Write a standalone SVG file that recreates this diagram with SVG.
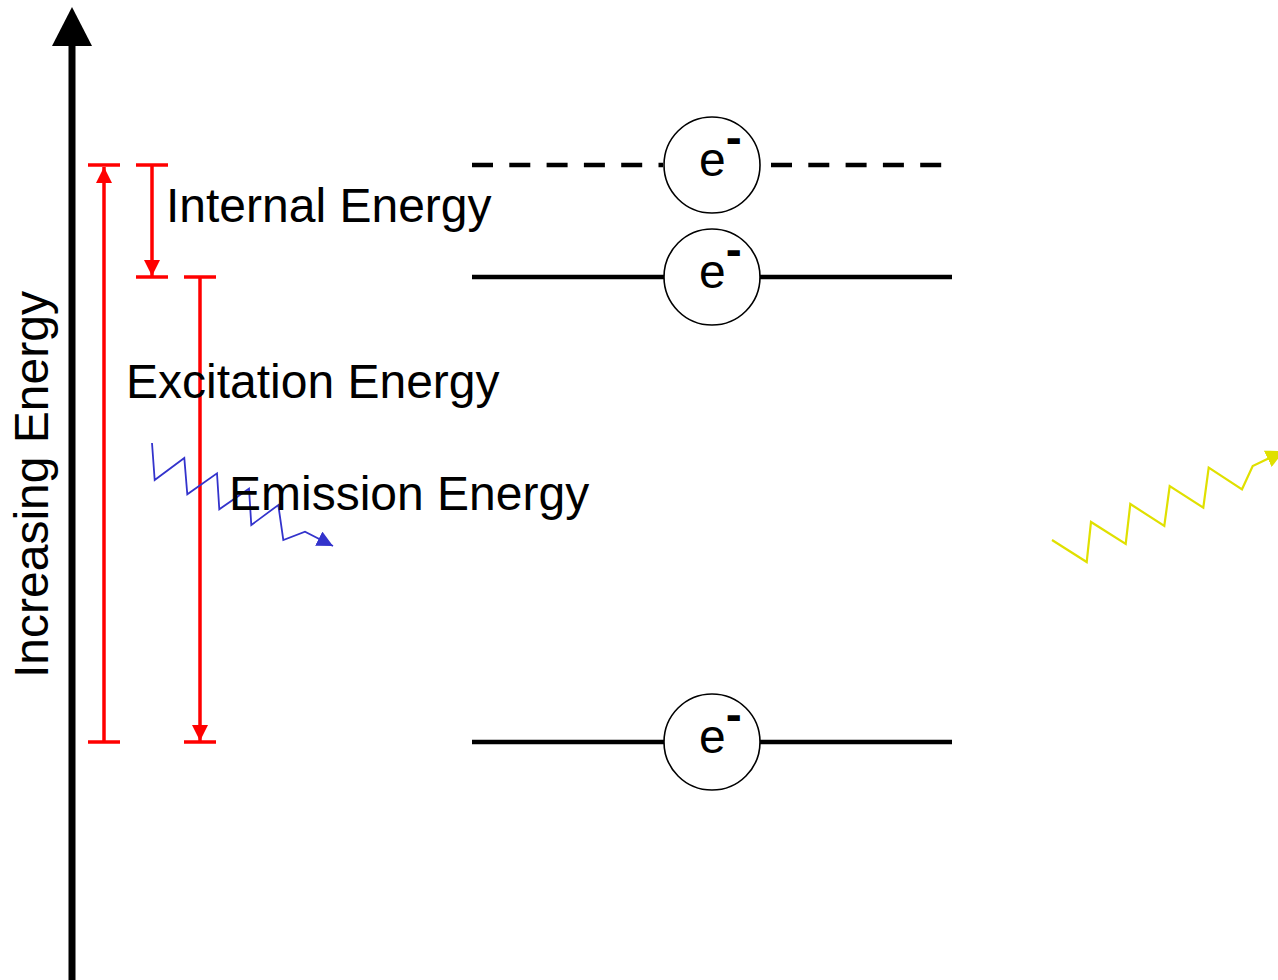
<svg xmlns="http://www.w3.org/2000/svg" width="1278" height="980" viewBox="0 0 1278 980">
  <style>
    .label { font-family: "Liberation Sans", Arial, sans-serif; font-size: 48px; fill: #000; }
    .bracket { stroke: #ff0000; stroke-width: 3.5; fill: none; }
    .level { stroke: #000; stroke-width: 4.5; fill: none; }
    .electron circle { fill: #fff; stroke: #000; stroke-width: 1.6; }
    .electron text { font-family: "Liberation Sans", Arial, sans-serif; font-size: 48px; fill: #000; }
    .electron .charge { font-weight: bold; }
  </style>
  <defs>
    <marker id="redHead" viewBox="0 0 10 10" refX="10" refY="5" markerWidth="16" markerHeight="16" markerUnits="userSpaceOnUse" orient="auto">
      <path d="M0,0 L10,5 L0,10 Z" fill="#ff0000"/>
    </marker>
    <marker id="blueHead" viewBox="0 0 10 10" refX="10" refY="5" markerWidth="16" markerHeight="16" markerUnits="userSpaceOnUse" orient="auto">
      <path d="M0,0 L10,5 L0,10 Z" fill="#3333cc"/>
    </marker>
    <marker id="yellowHead" viewBox="0 0 10 10" refX="10" refY="5" markerWidth="18" markerHeight="18" markerUnits="userSpaceOnUse" orient="auto">
      <path d="M0,0 L10,5 L0,10 Z" fill="#e0e000"/>
    </marker>
  </defs>

  <rect width="1278" height="980" fill="#fff"/>

  <!-- energy axis -->
  <g id="axis">
    <line x1="72" y1="980" x2="72" y2="40" stroke="#000" stroke-width="7"/>
    <polygon points="52,46 92,46 72,7" fill="#000"/>
    <text class="label" transform="translate(48,678) rotate(-90)">Increasing Energy</text>
  </g>

  <!-- energy levels -->
  <g id="levels">
    <line class="level" x1="472" y1="165" x2="663" y2="165" stroke-dasharray="21 16.3"/>
    <line class="level" x1="771" y1="165" x2="942" y2="165" stroke-dasharray="21 16.3"/>
    <line class="level" x1="472" y1="277" x2="952" y2="277"/>
    <line class="level" x1="472" y1="742" x2="952" y2="742"/>
  </g>

  <!-- electrons -->
  <g id="electron-excited" class="electron">
    <circle cx="712" cy="165" r="48"/>
    <text x="699" y="176">e<tspan class="charge" dy="-22">-</tspan></text>
  </g>
  <g id="electron-internal" class="electron">
    <circle cx="712" cy="277" r="48"/>
    <text x="699" y="288">e<tspan class="charge" dy="-22">-</tspan></text>
  </g>
  <g id="electron-ground" class="electron">
    <circle cx="712" cy="742" r="48"/>
    <text x="699" y="753">e<tspan class="charge" dy="-22">-</tspan></text>
  </g>

  <!-- energy gap brackets -->
  <g id="connectors">
    <g id="excitation-bracket">
      <line class="bracket" x1="88" y1="165" x2="120" y2="165"/>
      <line class="bracket" x1="88" y1="742" x2="120" y2="742"/>
      <line class="bracket" x1="104" y1="742" x2="104" y2="167" marker-end="url(#redHead)"/>
    </g>
    <g id="internal-bracket">
      <line class="bracket" x1="136" y1="165" x2="168" y2="165"/>
      <line class="bracket" x1="136" y1="277" x2="168" y2="277"/>
      <line class="bracket" x1="152" y1="165" x2="152" y2="276" marker-end="url(#redHead)"/>
    </g>
    <g id="emission-bracket">
      <line class="bracket" x1="184" y1="277" x2="216" y2="277"/>
      <line class="bracket" x1="184" y1="742" x2="216" y2="742"/>
      <line class="bracket" x1="200" y1="277" x2="200" y2="741" marker-end="url(#redHead)"/>
    </g>

    <!-- photons -->
    <polyline id="photon-in" fill="none" stroke="#3333cc" stroke-width="1.8" stroke-linejoin="miter"
      points="152,443 154.7,480 184.3,458 187.3,494.3 217,473.3 219.3,509.3 249,488.7 251.3,525 278.3,505 283.3,540 305,531.7 333,546"
      marker-end="url(#blueHead)"/>
    <polyline id="photon-out" fill="none" stroke="#e0e000" stroke-width="2.2"
      points="1052,540 1086.7,562 1091,522 1125.7,544 1130.3,504 1164.3,526 1169.7,486 1203.3,507.7 1208.7,467.7 1242,489.3 1252.7,466 1284,451"
      marker-end="url(#yellowHead)"/>
  </g>

  <!-- labels -->
  <g id="labels">
    <text class="label" x="166" y="222">Internal Energy</text>
    <text class="label" x="126" y="398">Excitation Energy</text>
    <text class="label" x="229" y="510">Emission Energy</text>
  </g>
</svg>
